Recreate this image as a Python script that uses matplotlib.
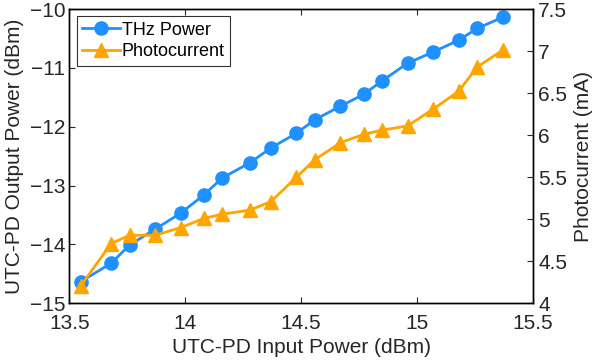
import matplotlib

matplotlib.use("Agg")
import matplotlib.pyplot as plt

plt.rcParams["font.family"] = ["Liberation Sans", "DejaVu Sans"]

# Input power sweep (dBm)
input_power = [13.55, 13.68, 13.76, 13.87, 13.98, 14.08, 14.16, 14.28, 14.37, 14.48,
               14.56, 14.67, 14.77, 14.85, 14.96, 15.07, 15.18, 15.26, 15.37]
thz_power = [-14.63, -14.32, -14.01, -13.74, -13.47, -13.16, -12.87, -12.61, -12.36, -12.11,
             -11.88, -11.65, -11.45, -11.22, -10.92, -10.73, -10.53, -10.33, -10.14]
photocurrent = [4.21, 4.71, 4.81, 4.81, 4.90, 5.01, 5.06, 5.11, 5.21, 5.50,
                5.71, 5.91, 6.01, 6.06, 6.11, 6.31, 6.52, 6.81, 7.01]

BLUE = "#1E90FF"
ORANGE = "#FFA500"
TXT = "#262626"

fig = plt.figure(figsize=(5.95, 3.62), dpi=100)
ax = fig.add_axes([0.1165, 0.162, 0.7788, 0.813])
ax2 = ax.twinx()

l1, = ax.plot(input_power, thz_power, "-o", color=BLUE, lw=2.0, ms=9.5, label="THz Power")
l2, = ax2.plot(input_power, photocurrent, "-^", color=ORANGE, lw=2.0, ms=10.5, label="Photocurrent")

ax.set_xlim(13.5, 15.5)
ax.set_ylim(-15, -10)
ax2.set_ylim(4, 7.5)
ax.set_xticks([13.5, 14, 14.5, 15, 15.5])
ax.set_xticklabels(["13.5", "14", "14.5", "15", "15.5"])
ax.set_yticks([-15, -14, -13, -12, -11, -10])
ax2.set_yticks([4, 4.5, 5, 5.5, 6, 6.5, 7, 7.5])
ax2.set_yticklabels(["4", "4.5", "5", "5.5", "6", "6.5", "7", "7.5"])

ax.tick_params(axis="x", direction="in", top=True, labelsize=15, colors=TXT, length=4, pad=8)
ax.tick_params(axis="y", direction="in", labelsize=15, colors=TXT, length=4, pad=3)
ax2.tick_params(axis="y", direction="in", labelsize=15, colors=TXT, length=4, pad=4)

ax.set_xlabel("UTC-PD Input Power (dBm)", fontsize=15, color=TXT, labelpad=3)
ax.set_ylabel("UTC-PD Output Power (dBm)", fontsize=15, color=TXT, labelpad=4)
ax2.set_ylabel("Photocurrent (mA)", fontsize=15, color=TXT, labelpad=5)

for a in (ax, ax2):
    for sp in a.spines.values():
        sp.set_color("black")
        sp.set_linewidth(1.0)

leg = ax.legend(handles=[l1, l2], loc="upper left", fontsize=13, frameon=True,
                fancybox=False, edgecolor="black", handlelength=2.1,
                handletextpad=0.1, borderpad=0.3, labelspacing=0.25,
                borderaxespad=0.4)
leg.get_frame().set_linewidth(0.8)

fig.savefig("out.png", dpi=100)
